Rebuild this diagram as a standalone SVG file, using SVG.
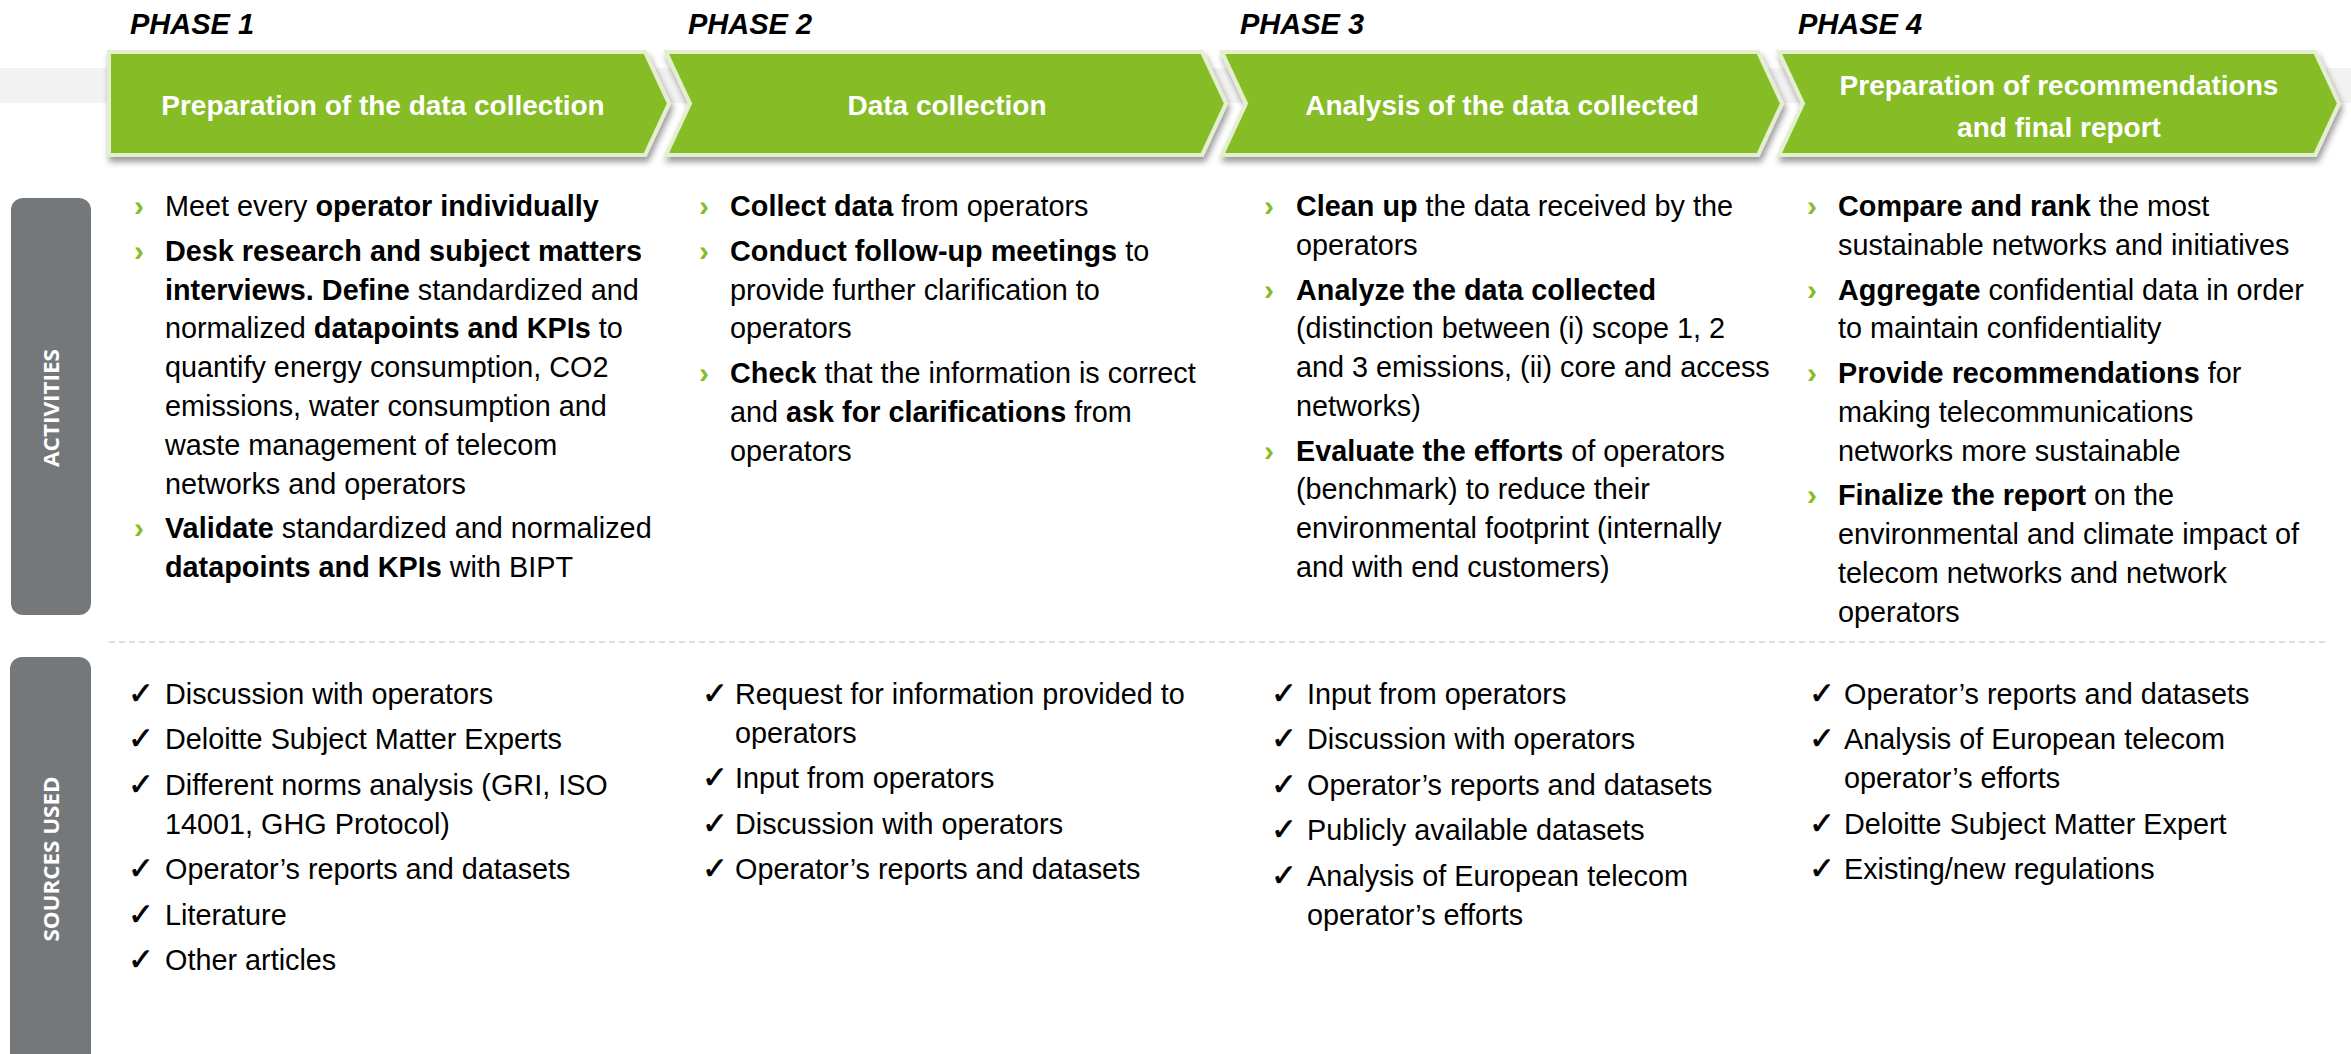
<svg xmlns="http://www.w3.org/2000/svg" width="2351" height="1054" viewBox="0 0 2351 1054">
<defs>
<style>
.t{font-family:"Liberation Sans",Arial,sans-serif;font-size:28.8px;fill:#000}
.b{font-weight:bold}
.bul{font-family:"Liberation Sans",Arial,sans-serif;font-size:30px;font-weight:bold;fill:#86bc25}
.chk{font-family:"DejaVu Sans",sans-serif;font-size:31px;fill:#000;stroke:#000;stroke-width:0.6}
.hdr{font-family:"Liberation Sans",Arial,sans-serif;font-weight:bold;font-size:28px;fill:#fff;text-anchor:middle}
.ph{font-family:"Liberation Sans",Arial,sans-serif;font-style:italic;font-weight:bold;font-size:29px;fill:#000}
.side{font-family:"Open Sans","Liberation Sans",sans-serif;font-weight:bold;font-size:22px;fill:#fff;text-anchor:middle}
.chev{fill:#86bc25;stroke:#e3efcf;stroke-width:4;stroke-linejoin:miter;filter:url(#sh)}
.sbox{fill:#75787b}
</style>
<filter id="sh" x="-5%" y="-20%" width="110%" height="150%">
<feDropShadow dx="2" dy="5" stdDeviation="3" flood-color="#000" flood-opacity="0.4"/>
</filter>
</defs>
<rect width="2351" height="1054" fill="#fff"/>
<rect id="band" x="0" y="68" width="2351" height="35" fill="#f2f2f2"/>

<g id="phase-labels">
<text class="ph" x="130" y="34">PHASE 1</text>
<text class="ph" x="688" y="34">PHASE 2</text>
<text class="ph" x="1240" y="34">PHASE 3</text>
<text class="ph" x="1798" y="34">PHASE 4</text>
</g>

<g id="chevron-1">
<path class="chev" d="M109,52 H645 L669,103.5 L645,155 H109 Z"/>
<text class="hdr" x="383" y="115">Preparation of the data collection</text>
</g>
<g id="chevron-2">
<path class="chev" d="M666,52 H1202 L1226,103.5 L1202,155 H666 L690,103.5 Z"/>
<text class="hdr" x="947" y="115">Data collection</text>
</g>
<g id="chevron-3">
<path class="chev" d="M1222,52 H1758 L1782,103.5 L1758,155 H1222 L1246,103.5 Z"/>
<text class="hdr" x="1502" y="115">Analysis of the data collected</text>
</g>
<g id="chevron-4">
<path class="chev" d="M1779,52 H2315 L2339,103.5 L2315,155 H1779 L1803,103.5 Z"/>
<text class="hdr" x="2059" y="95">Preparation of recommendations</text>
<text class="hdr" x="2059" y="137">and final report</text>
</g>

<g id="label-activities">
<rect class="sbox" x="11" y="198" width="80" height="417" rx="12"/>
<text class="side" transform="translate(59,408) rotate(-90)" textLength="118" lengthAdjust="spacingAndGlyphs">ACTIVITIES</text>
</g>
<g id="label-sources">
<rect class="sbox" x="10" y="657" width="81" height="420" rx="12"/>
<text class="side" transform="translate(59,859) rotate(-90)" textLength="165" lengthAdjust="spacingAndGlyphs">SOURCES USED</text>
</g>

<line id="separator" x1="109" y1="642" x2="2327" y2="642" stroke="#d3d3d3" stroke-width="1.5" stroke-dasharray="6 4"/>

<g id="activities-1">
<text class="bul" x="134" y="216">›</text>
<text class="bul" x="134" y="260.7">›</text>
<text class="bul" x="134" y="538.2">›</text>
<text class="t" x="165" y="216">Meet every <tspan class="b">operator individually</tspan></text>
<text class="t b" x="165" y="260.7">Desk research and subject matters</text>
<text class="t" x="165" y="299.5"><tspan class="b">interviews. Define</tspan> standardized and</text>
<text class="t" x="165" y="338.3">normalized <tspan class="b">datapoints and KPIs</tspan> to</text>
<text class="t" x="165" y="377.1">quantify energy consumption, CO2</text>
<text class="t" x="165" y="415.9">emissions, water consumption and</text>
<text class="t" x="165" y="454.7">waste management of telecom</text>
<text class="t" x="165" y="493.5">networks and operators</text>
<text class="t" x="165" y="538.2"><tspan class="b">Validate</tspan> standardized and normalized</text>
<text class="t" x="165" y="577"><tspan class="b">datapoints and KPIs</tspan> with BIPT</text>
</g>

<g id="activities-2">
<text class="bul" x="699" y="216">›</text>
<text class="bul" x="699" y="260.7">›</text>
<text class="bul" x="699" y="383">›</text>
<text class="t" x="730" y="216"><tspan class="b">Collect data</tspan> from operators</text>
<text class="t" x="730" y="260.7"><tspan class="b">Conduct follow-up meetings</tspan> to</text>
<text class="t" x="730" y="299.5">provide further clarification to</text>
<text class="t" x="730" y="338.3">operators</text>
<text class="t" x="730" y="383"><tspan class="b">Check</tspan> that the information is correct</text>
<text class="t" x="730" y="421.8">and <tspan class="b">ask for clarifications</tspan> from</text>
<text class="t" x="730" y="460.6">operators</text>
</g>

<g id="activities-3">
<text class="bul" x="1264" y="216">›</text>
<text class="bul" x="1264" y="299.5">›</text>
<text class="bul" x="1264" y="460.6">›</text>
<text class="t" x="1296" y="216"><tspan class="b">Clean up</tspan> the data received by the</text>
<text class="t" x="1296" y="254.8">operators</text>
<text class="t b" x="1296" y="299.5">Analyze the data collected</text>
<text class="t" x="1296" y="338.3">(distinction between (i) scope 1, 2</text>
<text class="t" x="1296" y="377.1">and 3 emissions, (ii) core and access</text>
<text class="t" x="1296" y="415.9">networks)</text>
<text class="t" x="1296" y="460.6"><tspan class="b">Evaluate the efforts</tspan> of operators</text>
<text class="t" x="1296" y="499.4">(benchmark) to reduce their</text>
<text class="t" x="1296" y="538.2">environmental footprint (internally</text>
<text class="t" x="1296" y="577">and with end customers)</text>
</g>

<g id="activities-4">
<text class="bul" x="1807" y="216">›</text>
<text class="bul" x="1807" y="299.5">›</text>
<text class="bul" x="1807" y="383">›</text>
<text class="bul" x="1807" y="505.3">›</text>
<text class="t" x="1838" y="216"><tspan class="b">Compare and rank</tspan> the most</text>
<text class="t" x="1838" y="254.8">sustainable networks and initiatives</text>
<text class="t" x="1838" y="299.5"><tspan class="b">Aggregate</tspan> confidential data in order</text>
<text class="t" x="1838" y="338.3">to maintain confidentiality</text>
<text class="t" x="1838" y="383"><tspan class="b">Provide recommendations</tspan> for</text>
<text class="t" x="1838" y="421.8">making telecommunications</text>
<text class="t" x="1838" y="460.6">networks more sustainable</text>
<text class="t" x="1838" y="505.3"><tspan class="b">Finalize the report</tspan> on the</text>
<text class="t" x="1838" y="544.1">environmental and climate impact of</text>
<text class="t" x="1838" y="582.9">telecom networks and network</text>
<text class="t" x="1838" y="621.7">operators</text>
</g>

<g id="sources-1">
<text class="chk" x="128" y="704">✓</text>
<text class="chk" x="128" y="749.4">✓</text>
<text class="chk" x="128" y="794.8">✓</text>
<text class="chk" x="128" y="879.2">✓</text>
<text class="chk" x="128" y="924.6">✓</text>
<text class="chk" x="128" y="970">✓</text>
<text class="t" x="165" y="704">Discussion with operators</text>
<text class="t" x="165" y="749.4">Deloitte Subject Matter Experts</text>
<text class="t" x="165" y="794.8">Different norms analysis (GRI, ISO</text>
<text class="t" x="165" y="833.8">14001, GHG Protocol)</text>
<text class="t" x="165" y="879.2">Operator’s reports and datasets</text>
<text class="t" x="165" y="924.6">Literature</text>
<text class="t" x="165" y="970">Other articles</text>
</g>

<g id="sources-2">
<text class="chk" x="702" y="704">✓</text>
<text class="chk" x="702" y="788.4">✓</text>
<text class="chk" x="702" y="833.8">✓</text>
<text class="chk" x="702" y="879.2">✓</text>
<text class="t" x="735" y="704">Request for information provided to</text>
<text class="t" x="735" y="743">operators</text>
<text class="t" x="735" y="788.4">Input from operators</text>
<text class="t" x="735" y="833.8">Discussion with operators</text>
<text class="t" x="735" y="879.2">Operator’s reports and datasets</text>
</g>

<g id="sources-3">
<text class="chk" x="1271" y="704">✓</text>
<text class="chk" x="1271" y="749.4">✓</text>
<text class="chk" x="1271" y="794.8">✓</text>
<text class="chk" x="1271" y="840.2">✓</text>
<text class="chk" x="1271" y="885.6">✓</text>
<text class="t" x="1307" y="704">Input from operators</text>
<text class="t" x="1307" y="749.4">Discussion with operators</text>
<text class="t" x="1307" y="794.8">Operator’s reports and datasets</text>
<text class="t" x="1307" y="840.2">Publicly available datasets</text>
<text class="t" x="1307" y="885.6">Analysis of European telecom</text>
<text class="t" x="1307" y="924.6">operator’s efforts</text>
</g>

<g id="sources-4">
<text class="chk" x="1809" y="704">✓</text>
<text class="chk" x="1809" y="749.4">✓</text>
<text class="chk" x="1809" y="833.8">✓</text>
<text class="chk" x="1809" y="879.2">✓</text>
<text class="t" x="1844" y="704">Operator’s reports and datasets</text>
<text class="t" x="1844" y="749.4">Analysis of European telecom</text>
<text class="t" x="1844" y="788.4">operator’s efforts</text>
<text class="t" x="1844" y="833.8">Deloitte Subject Matter Expert</text>
<text class="t" x="1844" y="879.2">Existing/new regulations</text>
</g>

<g id="connectors"></g>
</svg>
